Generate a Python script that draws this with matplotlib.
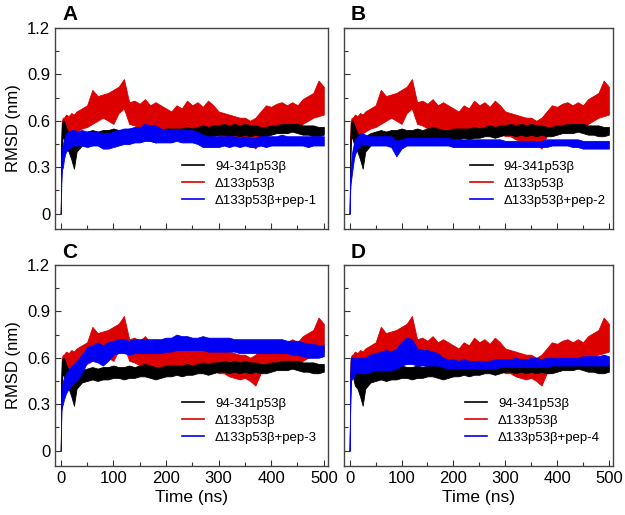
import matplotlib
matplotlib.use("Agg")
import matplotlib.pyplot as plt
from matplotlib.ticker import MultipleLocator, FixedLocator
from matplotlib.lines import Line2D

plt.rcParams['font.family'] = ['Liberation Sans', 'DejaVu Sans']

# ---- data (lower / upper envelope of each noisy trace) ----
time_ns = [0, 1, 2, 4, 6, 8, 10, 15, 20, 25, 30,
           40, 50, 60, 70, 80, 90, 100, 110, 120, 130, 140, 150, 160, 170, 180, 190,
           200, 210, 220, 230, 240, 250, 260, 270, 280, 290, 300, 310, 320, 330, 340,
           350, 360, 370, 380, 390, 400, 410, 420, 430, 440, 450, 460, 470, 480, 490, 500]

# 94-341p53beta (same reference run in every panel)
black_lo = [0, 0.30, 0.45, 0.50, 0.48, 0.45, 0.42, 0.40, 0.35, 0.29, 0.40,
            0.44, 0.45, 0.46, 0.45, 0.46, 0.46, 0.47, 0.47, 0.46, 0.47, 0.47, 0.48, 0.48, 0.47, 0.46, 0.47,
            0.48, 0.48, 0.49, 0.48, 0.49, 0.49, 0.50, 0.50, 0.49, 0.50, 0.51, 0.51, 0.50, 0.51, 0.50,
            0.51, 0.50, 0.51, 0.50, 0.50, 0.51, 0.52, 0.52, 0.52, 0.53, 0.52, 0.51, 0.51, 0.50, 0.50, 0.51]
black_hi = [0, 0.45, 0.58, 0.60, 0.60, 0.58, 0.56, 0.52, 0.50, 0.50, 0.50,
            0.52, 0.53, 0.54, 0.53, 0.54, 0.54, 0.55, 0.54, 0.54, 0.55, 0.54, 0.55, 0.56, 0.55, 0.54, 0.54,
            0.55, 0.55, 0.55, 0.55, 0.56, 0.55, 0.56, 0.57, 0.56, 0.57, 0.57, 0.58, 0.57, 0.58, 0.57,
            0.58, 0.57, 0.57, 0.56, 0.56, 0.57, 0.57, 0.58, 0.58, 0.58, 0.58, 0.57, 0.57, 0.57, 0.56, 0.56]

# delta133p53beta (same reference run in every panel)
red_lo = [0, 0.35, 0.50, 0.52, 0.50, 0.50, 0.52, 0.50, 0.50, 0.52, 0.53,
          0.55, 0.56, 0.58, 0.60, 0.62, 0.60, 0.58, 0.65, 0.68, 0.58, 0.57, 0.55, 0.56, 0.55, 0.54, 0.53,
          0.50, 0.50, 0.51, 0.52, 0.53, 0.54, 0.53, 0.52, 0.53, 0.52, 0.50, 0.50, 0.48, 0.47, 0.46,
          0.47, 0.45, 0.42, 0.50, 0.53, 0.54, 0.55, 0.55, 0.54, 0.56, 0.55, 0.58, 0.60, 0.62, 0.63, 0.64]
red_hi = [0, 0.50, 0.60, 0.62, 0.62, 0.63, 0.64, 0.63, 0.65, 0.64, 0.66,
          0.68, 0.70, 0.80, 0.76, 0.77, 0.78, 0.80, 0.82, 0.87, 0.72, 0.73, 0.71, 0.74, 0.70, 0.72, 0.70,
          0.68, 0.66, 0.70, 0.68, 0.73, 0.70, 0.72, 0.69, 0.73, 0.70, 0.66, 0.65, 0.64, 0.63, 0.62,
          0.62, 0.60, 0.62, 0.66, 0.70, 0.69, 0.71, 0.72, 0.70, 0.72, 0.70, 0.74, 0.76, 0.78, 0.86, 0.82]

# delta133p53beta + peptide runs
pep1_lo = [0, 0.20, 0.28, 0.30, 0.35, 0.38, 0.40, 0.42, 0.43, 0.44, 0.44,
           0.44, 0.43, 0.44, 0.44, 0.42, 0.42, 0.43, 0.44, 0.45, 0.45, 0.46, 0.46, 0.47, 0.47, 0.46, 0.46,
           0.46, 0.46, 0.47, 0.46, 0.46, 0.46, 0.45, 0.43, 0.43, 0.43, 0.43, 0.44, 0.43, 0.44, 0.43,
           0.44, 0.43, 0.43, 0.44, 0.43, 0.44, 0.44, 0.44, 0.44, 0.44, 0.44, 0.44, 0.43, 0.44, 0.44, 0.44]
pep1_hi = [0, 0.35, 0.42, 0.45, 0.48, 0.50, 0.52, 0.53, 0.54, 0.54, 0.53,
           0.54, 0.53, 0.53, 0.53, 0.52, 0.52, 0.53, 0.54, 0.55, 0.55, 0.56, 0.56, 0.58, 0.57, 0.57, 0.55,
           0.54, 0.54, 0.54, 0.54, 0.54, 0.54, 0.53, 0.51, 0.50, 0.50, 0.50, 0.50, 0.50, 0.50, 0.49,
           0.50, 0.49, 0.49, 0.50, 0.50, 0.50, 0.50, 0.51, 0.50, 0.50, 0.50, 0.50, 0.50, 0.50, 0.50, 0.50]
pep2_lo = [0, 0.15, 0.20, 0.25, 0.30, 0.35, 0.38, 0.42, 0.44, 0.45, 0.45,
           0.44, 0.44, 0.44, 0.44, 0.43, 0.37, 0.42, 0.44, 0.44, 0.44, 0.44, 0.44, 0.44, 0.44, 0.44, 0.44,
           0.43, 0.43, 0.43, 0.43, 0.43, 0.43, 0.43, 0.43, 0.43, 0.43, 0.43, 0.43, 0.43, 0.43, 0.43,
           0.43, 0.43, 0.43, 0.43, 0.44, 0.44, 0.44, 0.44, 0.43, 0.43, 0.42, 0.42, 0.42, 0.42, 0.42, 0.42]
pep2_hi = [0, 0.25, 0.30, 0.38, 0.42, 0.45, 0.48, 0.50, 0.52, 0.52, 0.51,
           0.50, 0.50, 0.50, 0.50, 0.50, 0.47, 0.48, 0.49, 0.49, 0.49, 0.49, 0.49, 0.49, 0.49, 0.49, 0.49,
           0.48, 0.48, 0.48, 0.48, 0.48, 0.48, 0.48, 0.48, 0.48, 0.48, 0.47, 0.47, 0.47, 0.47, 0.47,
           0.47, 0.47, 0.47, 0.48, 0.48, 0.48, 0.48, 0.48, 0.48, 0.48, 0.47, 0.47, 0.47, 0.47, 0.47, 0.47]
pep3_lo = [0, 0.25, 0.28, 0.30, 0.33, 0.35, 0.37, 0.40, 0.42, 0.44, 0.45,
           0.50, 0.57, 0.58, 0.57, 0.55, 0.58, 0.62, 0.63, 0.63, 0.62, 0.63, 0.63, 0.63, 0.63, 0.63, 0.63,
           0.64, 0.64, 0.65, 0.65, 0.65, 0.65, 0.65, 0.65, 0.64, 0.64, 0.64, 0.64, 0.64, 0.64, 0.63,
           0.63, 0.63, 0.63, 0.63, 0.63, 0.63, 0.63, 0.63, 0.63, 0.62, 0.62, 0.61, 0.60, 0.60, 0.60, 0.61]
pep3_hi = [0, 0.35, 0.40, 0.45, 0.47, 0.48, 0.50, 0.52, 0.55, 0.56, 0.58,
           0.62, 0.67, 0.68, 0.70, 0.68, 0.70, 0.71, 0.72, 0.72, 0.71, 0.72, 0.72, 0.72, 0.72, 0.72, 0.72,
           0.73, 0.73, 0.75, 0.74, 0.74, 0.73, 0.73, 0.74, 0.73, 0.73, 0.73, 0.73, 0.73, 0.72, 0.72,
           0.72, 0.72, 0.72, 0.72, 0.72, 0.72, 0.72, 0.72, 0.71, 0.71, 0.71, 0.70, 0.69, 0.69, 0.68, 0.68]
pep4_lo = [0, 0.30, 0.45, 0.46, 0.47, 0.48, 0.50, 0.50, 0.50, 0.50, 0.50,
           0.51, 0.52, 0.52, 0.52, 0.52, 0.53, 0.55, 0.56, 0.56, 0.55, 0.55, 0.55, 0.55, 0.55, 0.54, 0.53,
           0.53, 0.53, 0.53, 0.53, 0.53, 0.53, 0.53, 0.53, 0.53, 0.54, 0.54, 0.54, 0.54, 0.54, 0.54,
           0.54, 0.54, 0.54, 0.54, 0.55, 0.55, 0.55, 0.55, 0.55, 0.55, 0.55, 0.55, 0.55, 0.55, 0.55, 0.55]
pep4_hi = [0, 0.45, 0.60, 0.60, 0.60, 0.60, 0.60, 0.60, 0.60, 0.60, 0.60,
           0.62, 0.63, 0.64, 0.65, 0.64, 0.66, 0.70, 0.73, 0.72, 0.66, 0.65, 0.65, 0.64, 0.63, 0.60, 0.59,
           0.59, 0.58, 0.59, 0.58, 0.58, 0.58, 0.58, 0.58, 0.59, 0.59, 0.59, 0.59, 0.60, 0.59, 0.59,
           0.60, 0.60, 0.59, 0.60, 0.60, 0.60, 0.60, 0.60, 0.60, 0.60, 0.61, 0.61, 0.61, 0.61, 0.62, 0.61]

panel_letters = ["A", "B", "C", "D"]
pep_labels = ["\u0394133p53\u03b2+pep-1", "\u0394133p53\u03b2+pep-2",
              "\u0394133p53\u03b2+pep-3", "\u0394133p53\u03b2+pep-4"]
ref_labels = ["94-341p53\u03b2", "\u0394133p53\u03b2"]
pep_lo = [pep1_lo, pep2_lo, pep3_lo, pep4_lo]
pep_hi = [pep1_hi, pep2_hi, pep3_hi, pep4_hi]
y_ticks = [0, 0.3, 0.6, 0.9, 1.2]
y_ticklabels = ["0", "0.3", "0.6", "0.9", "1.2"]
x_ticks = [0, 100, 200, 300, 400, 500]

# ---- figure ----
W, H = 625, 515
fig = plt.figure(figsize=(W / 100, H / 100), dpi=100)

RED = '#dc0000'
BLUE = '#0000f5'
BLACK = '#000000'

boxes = [(55, 28, 328, 229), (344, 28, 613, 229), (55, 265, 328, 466), (344, 265, 613, 466)]
legend_pos = [(0.465, 0.34), (0.47, 0.34), (0.465, 0.34), (0.45, 0.34)]

for i, (x0, y0, x1, y1) in enumerate(boxes):
    ax = fig.add_axes([x0 / W, 1 - y1 / H, (x1 - x0) / W, (y1 - y0) / H])
    ax.fill_between(time_ns, red_lo, red_hi, color=RED, lw=0.6, zorder=2)
    ax.fill_between(time_ns, black_lo, black_hi, color=BLACK, lw=0.6, zorder=3)
    ax.fill_between(time_ns, pep_lo[i], pep_hi[i], color=BLUE, lw=0.6, zorder=4)

    ax.set_xlim(-11, 508)
    ax.set_ylim(-0.1, 1.2)
    ax.xaxis.set_major_locator(FixedLocator(x_ticks))
    ax.xaxis.set_minor_locator(MultipleLocator(50))
    ax.yaxis.set_major_locator(FixedLocator(y_ticks))
    ax.yaxis.set_minor_locator(MultipleLocator(0.15))
    ax.tick_params(which='both', direction='in', top=False, right=False,
                   color='#333333', labelsize=12, width=0.8)
    ax.tick_params(which='major', length=4)
    ax.tick_params(which='minor', length=3)
    for s in ax.spines.values():
        s.set_color('#444444')
        s.set_linewidth(1.0)

    if i % 2 == 0:
        ax.set_yticklabels(y_ticklabels)
        ax.set_ylabel("RMSD (nm)", fontsize=12, labelpad=4)
    else:
        ax.set_yticklabels([])
    if i >= 2:
        ax.set_xticklabels([str(v) for v in x_ticks])
        ax.set_xlabel("Time (ns)", fontsize=12.5, labelpad=3)
    else:
        ax.set_xticklabels([])

    handles = [Line2D([], [], color=BLACK, lw=1.2),
               Line2D([], [], color=RED, lw=1.2),
               Line2D([], [], color=BLUE, lw=1.2)]
    ax.legend(handles, [ref_labels[0], ref_labels[1], pep_labels[i]],
              loc='upper left', bbox_to_anchor=legend_pos[i], frameon=False,
              fontsize=9.5, handlelength=1.7, handletextpad=0.8,
              labelspacing=0.35, borderpad=0, borderaxespad=0)

    fig.text((x0 + 7) / W, 1 - (14 if i < 2 else 252) / H, panel_letters[i],
             fontsize=15, fontweight='bold', ha='left', va='center')

fig.savefig("out.png", dpi=100)
